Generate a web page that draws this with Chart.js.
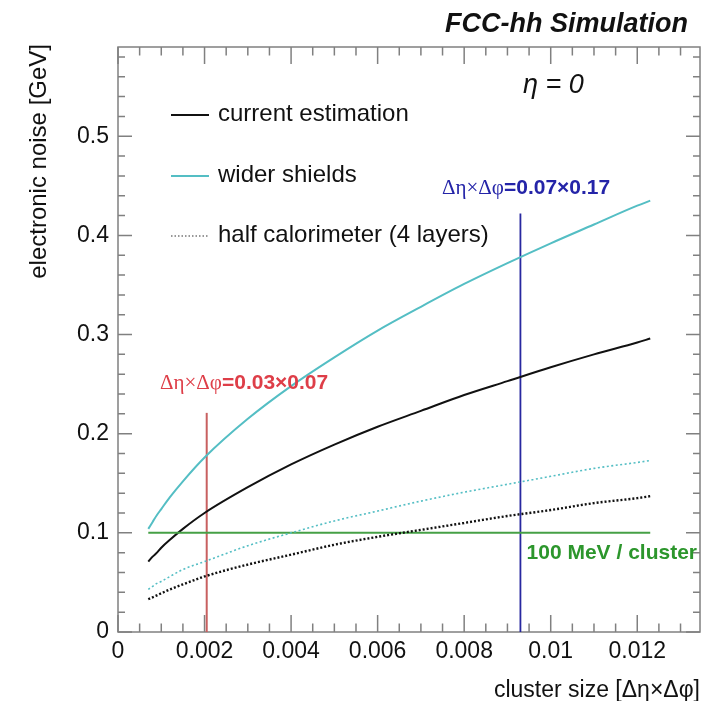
<!DOCTYPE html>
<html>
<head>
<meta charset="utf-8">
<script src="https://cdn.jsdelivr.net/npm/chart.js@4.4.1/dist/chart.umd.min.js"></script>
<style>
  html, body { margin: 0; padding: 0; background: #fff; }
  #myChart { display: block; }
</style>
</head>
<body>
<canvas id="myChart" width="714" height="701"></canvas>
<script>
// cluster size [deta x dphi]
const clusterSize = [0.0007, 0.0008, 0.0009, 0.001, 0.0012, 0.0015, 0.002, 0.003, 0.004, 0.005, 0.006, 0.007, 0.008, 0.009, 0.010, 0.011, 0.012, 0.0123];
// electronic noise [GeV]
const currentEstimation = [0.071, 0.076, 0.080, 0.085, 0.093, 0.104, 0.120, 0.146, 0.169, 0.189, 0.207, 0.223, 0.239, 0.253, 0.267, 0.280, 0.292, 0.296];
const widerShields = [0.104, 0.111, 0.118, 0.124, 0.136, 0.152, 0.176, 0.215, 0.248, 0.277, 0.304, 0.328, 0.351, 0.372, 0.392, 0.411, 0.430, 0.435];
const halfCalorimeter = [0.033, 0.035, 0.037, 0.039, 0.043, 0.048, 0.056, 0.068, 0.078, 0.088, 0.096, 0.103, 0.110, 0.117, 0.123, 0.130, 0.135, 0.137];
const halfCaloWiderShields = [0.043, 0.046, 0.049, 0.051, 0.056, 0.063, 0.071, 0.087, 0.100, 0.112, 0.122, 0.132, 0.141, 0.149, 0.157, 0.165, 0.171, 0.173];

// reference markers
const noiseLimit = 0.1;               // 100 MeV / cluster
const limitRange = [0.0007, 0.0123];
const smallCluster = 0.00205;         // 0.03 x 0.07
const smallClusterTop = 0.221;
const largeCluster = 0.0093;          // 0.07 x 0.17
const largeClusterTop = 0.422;

const xMax = 0.01345;
const yMax = 0.59;

const toPoints = (ys) => clusterSize.map((x, i) => ({ x: x, y: ys[i] }));

const BLACK = '#111111';
const CYAN = 'rgb(84,190,196)';
const FRAME = '#808080';

// ROOT style frame with inner ticks on all four sides
const frameTicks = {
  id: 'frameTicks',
  beforeDatasetsDraw(chart) {
    const { ctx, chartArea: a, scales } = chart;
    const xs = scales.x, ys = scales.y;
    ctx.save();
    ctx.strokeStyle = FRAME;
    ctx.lineWidth = 1.5;
    ctx.strokeRect(a.left, a.top, a.right - a.left, a.bottom - a.top);
    ctx.beginPath();
    for (let i = 0; i * 0.0005 <= xMax; i++) {
      const px = xs.getPixelForValue(i * 0.0005);
      const len = i % 4 === 0 ? 17 : 8.5;
      ctx.moveTo(px, a.bottom); ctx.lineTo(px, a.bottom - len);
      ctx.moveTo(px, a.top); ctx.lineTo(px, a.top + len);
    }
    for (let i = 0; i * 0.02 <= yMax; i++) {
      const py = ys.getPixelForValue(i * 0.02);
      const len = i % 5 === 0 ? 14 : 7;
      ctx.moveTo(a.left, py); ctx.lineTo(a.left + len, py);
      ctx.moveTo(a.right, py); ctx.lineTo(a.right - len, py);
    }
    ctx.stroke();
    ctx.restore();
  }
};

function drawParts(ctx, x, y, parts) {
  let cx = x;
  parts.forEach(p => {
    ctx.font = p.font;
    ctx.fillStyle = p.color;
    ctx.fillText(p.text, cx, y);
    cx += ctx.measureText(p.text).width;
  });
}

const labels = {
  id: 'labels',
  afterDraw(chart) {
    const { ctx, scales } = chart;
    const ys = scales.y;
    ctx.save();
    ctx.textBaseline = 'alphabetic';

    // title
    ctx.font = 'italic bold 27px "Liberation Sans", Arial, sans-serif';
    ctx.fillStyle = '#111';
    ctx.textAlign = 'right';
    ctx.fillText('FCC-hh Simulation', 688, 32);

    // axis titles
    ctx.font = '23px "Liberation Sans", Arial, sans-serif';
    ctx.fillText('cluster size [\u0394\u03b7\u00d7\u0394\u03c6]', 700, 697);
    ctx.save();
    ctx.font = '24px "Liberation Sans", Arial, sans-serif';
    ctx.translate(46, 44);
    ctx.rotate(-Math.PI / 2);
    ctx.textAlign = 'right';
    ctx.fillText('electronic noise [GeV]', 0, 0);
    ctx.restore();

    // eta label
    ctx.textAlign = 'left';
    ctx.font = 'italic 27px "Liberation Sans", Arial, sans-serif';
    ctx.fillText('\u03b7 = 0', 523, 93);

    // legend
    const legend = [
      { text: 'current estimation', color: BLACK, width: 2, dash: [] },
      { text: 'wider shields', color: CYAN, width: 2, dash: [] },
      { text: 'half calorimeter (4 layers)', color: '#333', width: 1.2, dash: [1.5, 2] }
    ];
    const rows = [115, 176, 236];
    legend.forEach((e, i) => {
      ctx.beginPath();
      ctx.strokeStyle = e.color;
      ctx.lineWidth = e.width;
      ctx.setLineDash(e.dash);
      ctx.moveTo(171, rows[i]); ctx.lineTo(209, rows[i]);
      ctx.stroke();
      ctx.setLineDash([]);
      ctx.font = '24px "Liberation Sans", Arial, sans-serif';
      ctx.fillStyle = '#111';
      ctx.textBaseline = 'middle';
      ctx.fillText(e.text, 218, rows[i] - 1);
    });
    ctx.textBaseline = 'alphabetic';

    // cluster annotations
    const greek = '21px "Liberation Serif", "Times New Roman", serif';
    const bold = 'bold 21px "Liberation Sans", Arial, sans-serif';
    const red = 'rgb(222,62,72)';
    const blue = 'rgb(36,36,168)';
    drawParts(ctx, 160, ys.getPixelForValue(smallClusterTop) - 24, [
      { text: '\u0394\u03b7\u00d7\u0394\u03c6', font: greek, color: red },
      { text: '=0.03\u00d70.07', font: bold, color: red }
    ]);
    drawParts(ctx, 442, ys.getPixelForValue(largeClusterTop) - 20, [
      { text: '\u0394\u03b7\u00d7\u0394\u03c6', font: greek, color: blue },
      { text: '=0.07\u00d70.17', font: bold, color: blue }
    ]);

    // limit label
    ctx.font = 'bold 21px "Liberation Sans", Arial, sans-serif';
    ctx.fillStyle = 'rgb(44,150,44)';
    ctx.textAlign = 'right';
    ctx.fillText('100 MeV / cluster', 697, ys.getPixelForValue(noiseLimit) + 26);
    ctx.restore();
  }
};

const ctx = document.getElementById('myChart').getContext('2d');

new Chart(ctx, {
  type: 'scatter',
  data: {
    datasets: [
      {
        label: 'half calorimeter, wider shields',
        data: toPoints(halfCaloWiderShields),
        borderColor: CYAN, borderWidth: 1.6, borderDash: [2, 2.5]
      },
      {
        label: 'half calorimeter (4 layers)',
        data: toPoints(halfCalorimeter),
        borderColor: BLACK, borderWidth: 2.4, borderDash: [2, 2]
      },
      {
        label: '100 MeV / cluster',
        data: limitRange.map(x => ({ x: x, y: noiseLimit })),
        borderColor: 'rgb(70,160,70)', borderWidth: 2, tension: 0
      },
      {
        label: 'wider shields',
        data: toPoints(widerShields),
        borderColor: CYAN, borderWidth: 2
      },
      {
        label: 'current estimation',
        data: toPoints(currentEstimation),
        borderColor: BLACK, borderWidth: 2
      },
      {
        label: '0.03x0.07',
        data: [{ x: smallCluster, y: 0 }, { x: smallCluster, y: smallClusterTop }],
        borderColor: 'rgb(200,96,96)', borderWidth: 2, tension: 0
      },
      {
        label: '0.07x0.17',
        data: [{ x: largeCluster, y: 0 }, { x: largeCluster, y: largeClusterTop }],
        borderColor: 'rgb(40,40,160)', borderWidth: 1.8, tension: 0
      }
    ]
  },
  options: {
    responsive: false,
    animation: false,
    showLine: true,
    layout: { padding: { top: 47, right: 14, left: 0, bottom: 0 } },
    elements: {
      point: { radius: 0, hoverRadius: 0 },
      line: { cubicInterpolationMode: 'monotone', fill: false }
    },
    plugins: { legend: { display: false }, tooltip: { enabled: false } },
    scales: {
      x: {
        type: 'linear', min: 0, max: xMax,
        afterFit: (s) => { s.height = 69; },
        grid: { display: false, drawTicks: false },
        border: { display: false },
        ticks: {
          stepSize: 0.002, includeBounds: false, autoSkip: false, maxRotation: 0,
          padding: 6, color: '#111',
          font: { family: '"Liberation Sans", Arial, sans-serif', size: 23 },
          callback: (v) => String(parseFloat(Number(v).toFixed(4)))
        }
      },
      y: {
        type: 'linear', min: 0, max: yMax,
        afterFit: (s) => { s.width = 118; },
        grid: { display: false, drawTicks: false },
        border: { display: false },
        ticks: {
          stepSize: 0.1, includeBounds: false, padding: 9, color: '#111',
          font: { family: '"Liberation Sans", Arial, sans-serif', size: 23 },
          callback: (v) => String(parseFloat(Number(v).toFixed(2)))
        }
      }
    }
  },
  plugins: [frameTicks, labels]
});
</script>
</body>
</html>
